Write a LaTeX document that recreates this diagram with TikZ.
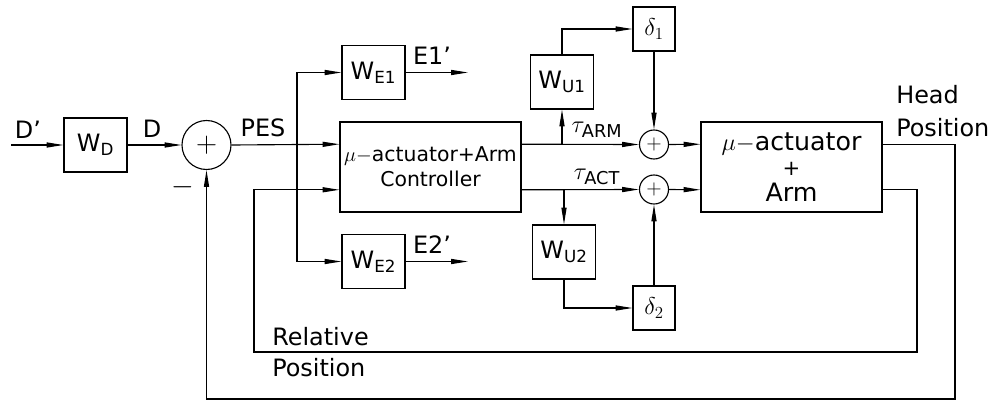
\documentclass[tikz,border=0pt]{standalone}
\usepackage{amsmath}
\usepackage{fontspec}
\setmainfont{DejaVu Sans}
\usetikzlibrary{arrows.meta, positioning, calc}

\begin{document}
\begin{tikzpicture}[
    x=0.025cm, y=-0.025cm,
    every node/.style = {align=center, inner sep=0pt, font=\fontsize{17}{22}\selectfont},
    wbox/.style    = {draw, line width=0.8pt, minimum width=1.575cm, minimum height=1.35cm},
    dbox/.style    = {draw, line width=0.8pt, minimum width=1.05cm, minimum height=1.1cm},
    plantbox/.style= {draw, line width=0.8pt, minimum width=4.525cm, minimum height=2.25cm},
    bigsum/.style  = {draw, circle, line width=0.8pt, minimum size=1.225cm,
                      font=\fontsize{22}{22}\selectfont},
    smallsum/.style= {draw, circle, line width=0.8pt, minimum size=0.725cm,
                      font=\fontsize{14}{14}\selectfont},
    arr/.style     = {-{Triangle[length=12pt,width=3.6pt]}, line width=0.8pt},
    tlabel/.style  = {font=\fontsize{18}{18}\selectfont},
]
\useasboundingbox (0,0) rectangle (995,401);

%% Blocks
\coordinate (din) at (11,145);
\node[wbox]   (wd)   at (95.5,145)  {W$_{\text{D}}$};
\node[bigsum] (s0)   at (206.5,145) {$+$};
\node[plantbox, font=\fontsize{14.5}{18}\selectfont] (ctrl) at (430.5,167)
    {$\mu{-}$actuator+Arm\\Controller};
\node[wbox]   (we1)  at (373.5,72.5)  {W$_{\text{E1}}$};
\node[wbox]   (we2)  at (373.5,261.5) {W$_{\text{E2}}$};
\node[wbox]   (wu1)  at (562,82)      {W$_{\text{U1}}$};
\node[wbox]   (wu2)  at (564,252)     {W$_{\text{U2}}$};
\node[dbox]   (del1) at (654,29)      {$\delta_1$};
\node[dbox]   (del2) at (654,308)     {$\delta_2$};
\node[smallsum] (s1) at (654,144.5) {$+$};
\node[smallsum] (s2) at (654,189.5) {$+$};
\node[plantbox, font=\fontsize{18}{19}\selectfont] (act) at (791.5,167)
    {$\mu{-}$actuator\\[-1pt]{\fontsize{15}{15}\selectfont +}\\[-1pt]Arm};

%% Ports
\coordinate (ci1) at ($(ctrl.north west)!0.25!(ctrl.south west)$);
\coordinate (ci2) at ($(ctrl.north west)!0.75!(ctrl.south west)$);
\coordinate (co1) at ($(ctrl.north east)!0.25!(ctrl.south east)$);
\coordinate (co2) at ($(ctrl.north east)!0.75!(ctrl.south east)$);
\coordinate (ai1) at ($(act.north west)!0.25!(act.south west)$);
\coordinate (ai2) at ($(act.north west)!0.75!(act.south west)$);
\coordinate (ao1) at ($(act.north east)!0.25!(act.south east)$);
\coordinate (ao2) at ($(act.north east)!0.75!(act.south east)$);
\coordinate (br)   at (297,145);
\coordinate (e1out) at (468,72.5);
\coordinate (e2out) at (468,261.5);
\coordinate (hpr) at (955,399);
\coordinate (hpl) at (206.5,399);
\coordinate (rpr) at (917,352);
\coordinate (rpl) at (254,352);

%% Forward path
\draw[arr] (din) -- (wd.west);
\draw[arr] (wd.east) -- (s0.west);
\draw[arr] (s0.east) -- (ci1);
\draw[arr] (br) |- (we1.west);
\draw[arr] (br) |- (we2.west);
\draw[arr] (we1.east) -- (e1out);
\draw[arr] (we2.east) -- (e2out);

%% Controller to plant
\draw[arr] (co1) -- (s1.west);
\draw[arr] (co2) -- (s2.west);
\draw[arr] (wu1.south |- co1) -- (wu1.south);
\draw[arr] (wu2.north |- co2) -- (wu2.north);
\draw[arr] (wu1.north) |- (del1.west);
\draw[arr] (wu2.south) |- (del2.west);
\draw[arr] (del1.south) -- (s1.north);
\draw[arr] (del2.north) -- (s2.south);
\draw[arr] (s1.east) -- (ai1);
\draw[arr] (s2.east) -- (ai2);

%% Feedback
\draw[arr] (ao1) -| (hpr) -- (hpl) -- (s0.south);
\draw[arr] (ao2) -| (rpr) -- (rpl) |- (ci2);

%% Labels
\node (ldp)  at (28,130)  {D’};
\node (ld)   at (152,129) {D};
\node (lpes) at (263,128) {PES};
\node[font=\fontsize{22}{22}\selectfont] (lmin) at (183,187) {$-$};
\node (le1)  at (432,56)  {E1’};
\node (le2)  at (432,245) {E2’};
\node[tlabel] (ltarm) at (597,130) {$\tau_{\text{ARM}}$};
\node[tlabel] (ltact) at (597,177) {$\tau_{\text{ACT}}$};
\node[anchor=west, align=left, font=\fontsize{17}{23}\selectfont] (lhead) at (896,111)
    {Head\\Position};
\node[anchor=west, align=left, font=\fontsize{17}{22}\selectfont] (lrel) at (272,352.5)
    {Relative\\Position};

\end{tikzpicture}
\end{document}
